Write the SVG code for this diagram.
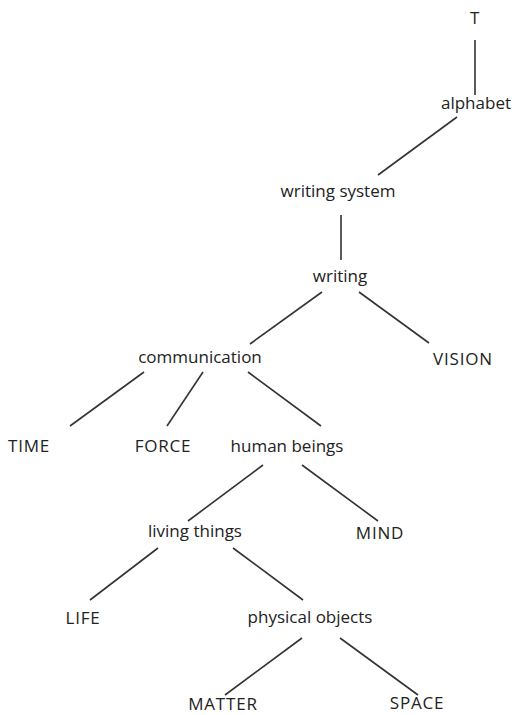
<svg xmlns="http://www.w3.org/2000/svg" width="514" height="715" viewBox="0 0 514 715">
<style>
text{font-family:"Open Sans","Noto Sans",sans-serif;font-size:17px;fill:#222;text-anchor:middle}
text.c{letter-spacing:0.8px}
.e line{stroke:#333;stroke-width:1.6;stroke-linecap:butt}
</style>
<rect width="514" height="715" fill="#fff"/>
<g class="e" id="edges">
<line x1="475" y1="40" x2="475" y2="95"/>
<line x1="457" y1="117" x2="378" y2="175"/>
<line x1="341" y1="215" x2="341" y2="260"/>
<line x1="322" y1="292" x2="250" y2="344"/>
<line x1="359" y1="292" x2="429" y2="343"/>
<line x1="144" y1="372" x2="70" y2="426"/>
<line x1="203" y1="372" x2="167" y2="426"/>
<line x1="248" y1="372" x2="321" y2="426"/>
<line x1="263" y1="465" x2="188" y2="521"/>
<line x1="302" y1="465" x2="378" y2="521"/>
<line x1="158" y1="548" x2="90" y2="600"/>
<line x1="233" y1="548" x2="303" y2="600"/>
<line x1="302" y1="638" x2="225" y2="695"/>
<line x1="340" y1="638" x2="418" y2="695"/>
</g>
<g id="n-T"><text class="c" x="475" y="24">T</text></g>
<g id="n-alphabet"><text x="476" y="109">alphabet</text></g>
<g id="n-writingsystem"><text x="338" y="197">writing system</text></g>
<g id="n-writing"><text x="340" y="282">writing</text></g>
<g id="n-communication"><text x="200" y="363">communication</text></g>
<g id="n-VISION"><text class="c" x="463" y="365">VISION</text></g>
<g id="n-TIME"><text class="c" x="29" y="452">TIME</text></g>
<g id="n-FORCE"><text class="c" x="163" y="452">FORCE</text></g>
<g id="n-humanbeings"><text x="287" y="452">human beings</text></g>
<g id="n-livingthings"><text x="195" y="537">living things</text></g>
<g id="n-MIND"><text class="c" x="380" y="539">MIND</text></g>
<g id="n-LIFE"><text class="c" x="83" y="624">LIFE</text></g>
<g id="n-physicalobjects"><text x="310" y="623">physical objects</text></g>
<g id="n-MATTER"><text class="c" x="223" y="710">MATTER</text></g>
<g id="n-SPACE"><text class="c" x="417" y="709">SPACE</text></g>
</svg>
